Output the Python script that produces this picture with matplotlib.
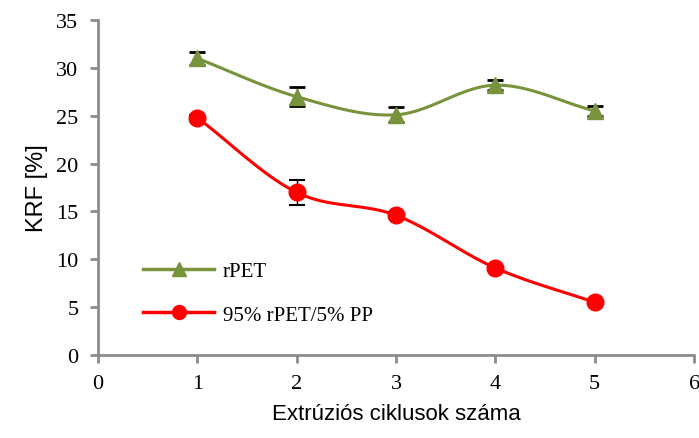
import numpy as np
import matplotlib
matplotlib.use("Agg")
from matplotlib import pyplot as plt

# adatok
ciklus = [1, 2, 3, 4, 5]
rpet = [31.0, 27.0, 25.1, 28.2, 25.5]
rpet_err = [0.7, 1.0, 0.8, 0.5, 0.5]
blend = [24.8, 17.0, 14.6, 9.1, 5.5]
blend_err = [0.3, 1.3, 0.3, 0.3, 0.3]

green = "#77933C"
red = "#FF0000"
axcol = "#8C8C8C"


def smooth(x, y, n=30):
    # Catmull-Rom jellegu simitas, mint az Excel "simitott vonal"
    x = np.asarray(x, float)
    y = np.asarray(y, float)
    px = np.concatenate([[2 * x[0] - x[1]], x, [2 * x[-1] - x[-2]]])
    py = np.concatenate([[2 * y[0] - y[1]], y, [2 * y[-1] - y[-2]]])
    xs, ys = [], []
    t = np.linspace(0, 1, n)
    for i in range(1, len(px) - 2):
        for p, out in ((px, xs), (py, ys)):
            p0, p1, p2, p3 = p[i - 1], p[i], p[i + 1], p[i + 2]
            out.extend(0.5 * ((2 * p1) + (-p0 + p2) * t
                              + (2 * p0 - 5 * p1 + 4 * p2 - p3) * t ** 2
                              + (-p0 + 3 * p1 - 3 * p2 + p3) * t ** 3))
    return xs, ys


fig = plt.figure(figsize=(6.99, 4.39), dpi=100)
ax = fig.add_axes([0.140, 0.189, 0.853, 0.763])

sx, sy = smooth(ciklus, rpet)
ax.plot(sx, sy, color=green, lw=2.2, zorder=2)
ax.errorbar(ciklus, rpet, yerr=rpet_err, fmt="none", ecolor="black",
            elinewidth=1, capsize=6, capthick=2, zorder=3)
ax.plot(ciklus, rpet, ls="none", marker="^", ms=12, color=green, zorder=4)

sx, sy = smooth(ciklus, blend)
ax.plot(sx, sy, color=red, lw=2.2, zorder=2)
ax.errorbar(ciklus, blend, yerr=blend_err, fmt="none", ecolor="black",
            elinewidth=1, capsize=6, capthick=1.5, zorder=3)
ax.plot(ciklus, blend, ls="none", marker="o", ms=12, color=red, zorder=4)

h1 = plt.Line2D([], [], color=green, lw=2.5, marker="^", ms=10)
h2 = plt.Line2D([], [], color=red, lw=2.5, marker="o", ms=10)
ax.legend([h1, h2], ["rPET", "95% rPET/5% PP"], loc="lower left",
          bbox_to_anchor=(0.045, 0.035), frameon=False, handlelength=3.4,
          handletextpad=0.4, labelspacing=1.15,
          prop={"family": "Liberation Serif", "size": 15})

ax.set_xlim(0, 6)
ax.set_ylim(0, 35)
ax.set_xticks(range(0, 7))
ax.set_yticks(range(0, 36, 5))
for s in ("top", "right"):
    ax.spines[s].set_visible(False)
for s in ("left", "bottom"):
    ax.spines[s].set_color(axcol)
    ax.spines[s].set_linewidth(2)
ax.tick_params(colors=axcol, width=2, length=6, labelcolor="black",
               labelsize=16, pad=8)
for lab in ax.get_xticklabels() + ax.get_yticklabels():
    lab.set_family("Liberation Serif")

ax.set_xlabel("Extrúziós ciklusok száma", family="Liberation Sans",
              fontsize=16, labelpad=7)
ax.set_ylabel("KRF [%]", family="Liberation Sans", fontsize=17, labelpad=6)

fig.savefig("out.png", dpi=100)
